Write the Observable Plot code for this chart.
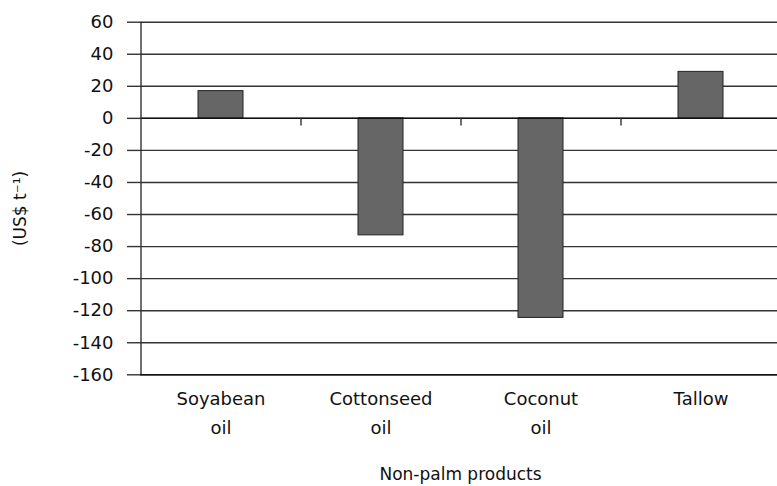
<!DOCTYPE html>
<html>
<head>
<meta charset="utf-8">
<script src="https://cdn.jsdelivr.net/npm/d3@7"></script>
<script src="https://cdn.jsdelivr.net/npm/@observablehq/plot@0.6"></script>
<style>
  html, body { margin: 0; padding: 0; background: #fff; }
  #chart { width: 777px; height: 486px; }
</style>
</head>
<body>
<div id="chart"></div>
<script>
const categories = ["Soyabean oil", "Cottonseed oil", "Coconut oil", "Tallow"];
const categoryLabels = ["Soyabean\noil", "Cottonseed\noil", "Coconut\noil", "Tallow"];
const values = [17, -73, -124.5, 29];
const yTicks = [60, 40, 20, 0, -20, -40, -60, -80, -100, -120, -140, -160];
const yLabel = "(US$ t\u207B\u00B9)";
const xLabel = "Non-palm products";

const data = categories.map((c, i) => ({category: c, value: values[i]}));
const labelOf = new Map(categories.map((c, i) => [c, categoryLabels[i]]));
const font = "DejaVu Sans";

const chart = Plot.plot({
  width: 777,
  height: 486,
  marginLeft: 140,
  marginRight: -3,
  marginTop: 21.7,
  marginBottom: 111.7,
  style: {fontFamily: font, fontSize: "18px", color: "#111", background: "#fff"},
  x: {domain: categories, paddingInner: 0.72, paddingOuter: 0.36, align: 0.5},
  y: {domain: [-160, 60]},
  marks: [
    Plot.ruleY(yTicks, {stroke: "#333", strokeWidth: 1.4, strokeOpacity: 1}),
    Plot.axisY({
      ticks: yTicks,
      tickSize: 13,
      tickPadding: 14,
      tickFormat: d => String(d),
      stroke: "#333",
      strokeWidth: 1.4,
      strokeOpacity: 1,
      fontSize: 18,
      label: null
    }),
    Plot.axisX({
      tickSize: 0,
      tickPadding: 10,
      tickFormat: d => labelOf.get(d),
      lineHeight: 1.6,
      fontSize: 18,
      label: null
    }),
    Plot.text([yLabel], {frameAnchor: "left", textAnchor: "middle", rotate: -90, dx: -120, dy: 10, fontSize: 17, fill: "#111"}),
    Plot.text([xLabel], {frameAnchor: "bottom", dy: 105, fontSize: 17, fill: "#111"}),
    Plot.barY(data, {x: "category", y: "value", fill: "#666", stroke: "#222", strokeWidth: 1}),
    Plot.ruleY([0, -160], {stroke: "#111", strokeWidth: 1.5}),
    Plot.ruleX(categories.slice(1), {dx: -80, y1: 0, y2: -4.8, stroke: "#333", strokeWidth: 1.4}),
    Plot.ruleX([categories[0]], {dx: -80, y1: -160, y2: 60, stroke: "#333", strokeWidth: 1.4})
  ]
});
document.getElementById("chart").appendChild(chart);
</script>
</body>
</html>
